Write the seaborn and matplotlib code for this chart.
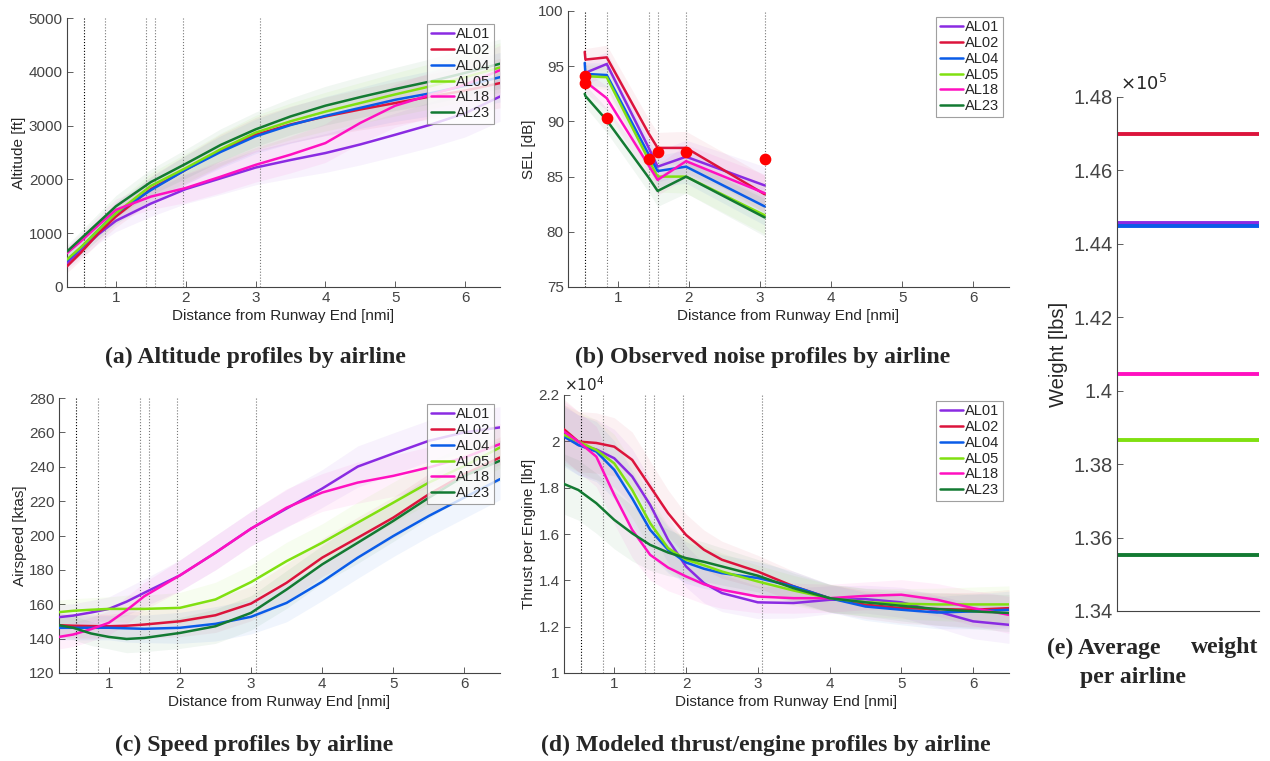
import numpy as np
import pandas as pd
import matplotlib
matplotlib.use("Agg")
import matplotlib.pyplot as plt
import seaborn as sns
from matplotlib.ticker import FuncFormatter

# airlines and colours
airlines = ["AL01", "AL02", "AL04", "AL05", "AL18", "AL23"]
colors = ["#8a2be2", "#dc143c", "#0a5ce8", "#80e010", "#ff10c0", "#137a32"]

# microphone locations (vertical lines), nmi from runway end
mic_dist = [0.54, 0.845, 1.435, 1.56, 1.96, 3.065]

# (a) altitude [ft]
dist_a = [0.3, 0.5, 0.75, 1.0, 1.5, 2.0, 2.5, 3.0, 3.5, 4.0, 4.5, 5.0, 5.5, 6.0, 6.5]
alt = {
    "AL01": [445, 680, 980, 1230, 1550, 1820, 2020, 2220, 2360, 2490, 2650, 2830, 3015, 3230, 3540],
    "AL02": [385, 640, 1000, 1310, 1820, 2180, 2540, 2830, 3020, 3170, 3300, 3420, 3540, 3650, 3790],
    "AL04": [490, 730, 1060, 1375, 1800, 2180, 2510, 2800, 3010, 3180, 3330, 3480, 3600, 3740, 3900],
    "AL05": [510, 740, 1060, 1370, 1880, 2210, 2560, 2870, 3080, 3260, 3420, 3580, 3730, 3900, 4080],
    "AL18": [630, 850, 1150, 1435, 1680, 1840, 2050, 2270, 2460, 2675, 3050, 3370, 3570, 3760, 4030],
    "AL23": [660, 900, 1200, 1500, 1950, 2290, 2640, 2930, 3170, 3370, 3530, 3680, 3820, 3980, 4150],
}
alt_band = [120, 140, 170, 200, 240, 270, 300, 320, 340, 360, 380, 400, 420, 440, 460]

# (b) observed SEL [dB] at microphones
sel_dist = [0.535, 0.545, 0.845, 1.435, 1.56, 1.96, 3.065]
sel = {
    "AL01": [94.5, 94.4, 95.2, 87.6, 85.9, 86.8, 84.2],
    "AL02": [96.3, 95.6, 95.8, 88.9, 87.6, 87.6, 83.4],
    "AL04": [95.3, 94.3, 94.2, 87.0, 85.5, 85.9, 82.3],
    "AL05": [94.1, 94.1, 94.0, 86.5, 85.0, 85.0, 81.5],
    "AL18": [93.8, 93.6, 92.1, 86.0, 84.7, 86.4, 83.5],
    "AL23": [92.5, 92.3, 90.1, 84.9, 83.7, 85.0, 81.3],
}
sel_band = [1.0, 1.0, 1.1, 1.3, 1.4, 1.5, 1.7]
obs_dist = [0.54, 0.54, 0.845, 1.435, 1.56, 1.96, 3.065]
obs_sel = [94.1, 93.5, 90.3, 86.6, 87.2, 87.2, 86.6]

# (c) airspeed [ktas]
dist_c = [0.3, 0.5, 0.75, 1.0, 1.25, 1.5, 2.0, 2.5, 3.0, 3.5, 4.0, 4.5, 5.0, 5.5, 6.0, 6.5]
spd = {
    "AL01": [152.5, 153.4, 155.2, 157.3, 161.5, 166.7, 176.8, 190, 204, 215.7, 227.3, 240.1, 247.7, 255.1, 260, 262.9],
    "AL02": [147.8, 147.5, 147.3, 147.2, 147.5, 148.2, 150.1, 153.6, 160.4, 172.5, 187.1, 198.7, 210.4, 224, 235.7, 245.4],
    "AL04": [146.3, 146.3, 146.3, 146.3, 146.0, 145.7, 146.3, 148.6, 152.7, 160.8, 173.1, 187.1, 199.7, 211.4, 222.1, 232.8],
    "AL05": [155.4, 156.2, 156.8, 157.3, 157.3, 157.3, 157.9, 162.8, 172.9, 185.1, 195.8, 207.5, 219.1, 230.8, 240.5, 251.2],
    "AL18": [141, 142.4, 145.5, 149.2, 156.5, 164.7, 176.8, 190, 204, 216.2, 225, 230.8, 234.7, 239.6, 245.4, 253.2],
    "AL23": [147.8, 146.3, 143, 141, 139.8, 140.4, 143.3, 147.2, 155, 168.6, 183.2, 195.8, 208.5, 222, 234.7, 243.5],
}
spd_band = [7, 7, 7, 7, 8, 8, 9, 10, 10, 11, 11, 12, 12, 12, 12, 12]

# (d) thrust per engine [lbf]
dist_d = [0.3, 0.5, 0.75, 1.0, 1.25, 1.5, 1.75, 2.0, 2.25, 2.5, 3.0, 3.5, 4.0, 4.5, 5.0, 5.5, 6.0, 6.5]
thr = {
    "AL01": [20280, 19840, 19650, 19270, 18480, 17260, 15750, 14600, 13880, 13450, 13050, 13020, 13160, 13190, 13050, 12660, 12230, 12080],
    "AL02": [20520, 19990, 19930, 19770, 19200, 18050, 16900, 15960, 15320, 14890, 14380, 13740, 13230, 12950, 12800, 12760, 12730, 12800],
    "AL04": [20200, 19840, 19560, 18770, 17540, 16180, 15320, 14770, 14500, 14310, 14100, 13740, 13230, 12870, 12730, 12610, 12660, 12730],
    "AL05": [20280, 19990, 19630, 19050, 17900, 16470, 15390, 14890, 14650, 14380, 13950, 13560, 13230, 13060, 12990, 12960, 12960, 12960],
    "AL18": [20420, 19990, 19340, 17690, 16180, 15100, 14550, 14170, 13830, 13590, 13300, 13230, 13230, 13330, 13380, 13160, 12800, 12510],
    "AL23": [18160, 17900, 17330, 16610, 16030, 15530, 15200, 14960, 14800, 14600, 14200, 13660, 13230, 13050, 12900, 12760, 12660, 12590],
}
thr_band = [1300, 1300, 1300, 1250, 1200, 1100, 1000, 900, 850, 800, 700, 650, 600, 600, 650, 700, 750, 800]

# (e) average weight [lbs]
weight = [144580, 146990, 144490, 138660, 140460, 135530]

sns.set_theme(style="ticks")
plt.rcParams["font.family"] = ["Liberation Sans", "DejaVu Sans"]
plt.rcParams["xtick.direction"] = "in"
plt.rcParams["ytick.direction"] = "in"
plt.rcParams["axes.edgecolor"] = "#444444"
plt.rcParams["xtick.color"] = "#444444"
plt.rcParams["ytick.color"] = "#444444"
plt.rcParams["axes.linewidth"] = 0.8

palette = dict(zip(airlines, colors))
W, H = 1270, 761


def box(l, t, r, b):
    return [l / W, (H - b) / H, (r - l) / W, (b - t) / H]


def long_df(x, d):
    rows = []
    for al in airlines:
        for xi, yi in zip(x, d[al]):
            rows.append((al, xi, yi))
    return pd.DataFrame(rows, columns=["airline", "dist", "val"])


def profile(ax, x, d, band, ylim, yticks, ylabel):
    for al in airlines:
        y = np.array(d[al])
        ax.fill_between(x, y - np.array(band), y + np.array(band),
                        color=palette[al], alpha=0.06, lw=0)
    for i, xv in enumerate(mic_dist):
        ax.axvline(xv, color="black" if i == 0 else "#777777", ls=":", lw=0.8, zorder=1)
    sns.lineplot(data=long_df(x, d), x="dist", y="val", hue="airline", palette=palette,
                 lw=1.8, ax=ax, zorder=3)
    ax.set_xlim(0.3, 6.5)
    ax.set_ylim(*ylim)
    ax.set_xticks([1, 2, 3, 4, 5, 6])
    ax.set_yticks(yticks)
    ax.set_xlabel("Distance from Runway End [nmi]", fontsize=11, labelpad=3)
    ax.set_ylabel(ylabel, fontsize=11, labelpad=2)
    ax.tick_params(labelsize=11, length=4, width=0.6, pad=3)
    sns.despine(ax=ax)
    leg = ax.legend(loc="upper right", fontsize=10.5, frameon=True, fancybox=False,
                    edgecolor="#888888", handlelength=1.6, handletextpad=0.15,
                    labelspacing=0.12, borderpad=0.25, borderaxespad=0.4)
    leg.get_frame().set_linewidth(0.8)


fig = plt.figure(figsize=(12.7, 7.61), dpi=100)

ax_a = fig.add_axes(box(67, 18, 500, 287))
profile(ax_a, dist_a, alt, alt_band, (0, 5000), range(0, 5001, 1000), "Altitude [ft]")

ax_b = fig.add_axes(box(568, 11, 1009, 287))
profile(ax_b, sel_dist, sel, sel_band, (75, 100), range(75, 101, 5), "SEL [dB]")
ax_b.scatter(obs_dist, obs_sel, s=55, color="red", zorder=5)

ax_c = fig.add_axes(box(59, 398, 500, 673))
profile(ax_c, dist_c, spd, spd_band, (120, 280), range(120, 281, 20), "Airspeed [ktas]")

ax_d = fig.add_axes(box(564, 395, 1009, 673))
profile(ax_d, dist_d, thr, thr_band, (10000, 22000), range(10000, 22001, 2000), "Thrust per Engine [lbf]")
ax_d.yaxis.set_major_formatter(FuncFormatter(lambda v, p: f"{v / 1e4:g}"))
ax_d.text(0.0, 1.005, r"$\times10^4$", transform=ax_d.transAxes, fontsize=11, va="bottom", ha="left")

# (e) weights as flat lines
ax_e = fig.add_axes(box(1117, 97, 1259, 611))
wdf = pd.DataFrame({"airline": np.repeat(airlines, 2),
                    "x": [0, 1] * len(airlines),
                    "w": np.repeat(weight, 2)})
sns.lineplot(data=wdf, x="x", y="w", hue="airline", palette=palette, lw=2.8, ax=ax_e, legend=False)
ax_e.set_xlim(0, 1)
ax_e.set_ylim(134000, 148000)
ax_e.set_yticks(range(134000, 148001, 2000))
ax_e.yaxis.set_major_formatter(FuncFormatter(lambda v, p: f"{v / 1e5:g}"))
ax_e.set_xticks([])
ax_e.set_xlabel("")
ax_e.set_ylabel("Weight [lbs]", fontsize=14.5, labelpad=4)
ax_e.tick_params(labelsize=14.5, length=4, width=0.6, pad=3)
ax_e.text(0.02, 1.005, r"$\times10^5$", transform=ax_e.transAxes, fontsize=13, va="bottom", ha="left")
sns.despine(ax=ax_e)

# captions
cap = dict(fontsize=17.1, fontweight="bold", family="Liberation Serif", ha="center", va="center")
fig.text(255 / W, 1 - 357 / H, "(a) Altitude profiles by airline", **cap)
fig.text(763 / W, 1 - 357 / H, "(b) Observed noise profiles by airline", **cap)
fig.text(254 / W, 1 - 745 / H, "(c) Speed profiles by airline", **cap)
fig.text(766 / W, 1 - 745 / H, "(d) Modeled thrust/engine profiles by airline", **cap)
fig.text(1047 / W, 1 - 648 / H, "(e) Average", **{**cap, "ha": "left"})
fig.text(1258 / W, 1 - 648 / H, "weight", **{**cap, "ha": "right"})
fig.text(1080 / W, 1 - 678 / H, "per airline", **{**cap, "ha": "left"})

fig.savefig("out.png", dpi=100)
